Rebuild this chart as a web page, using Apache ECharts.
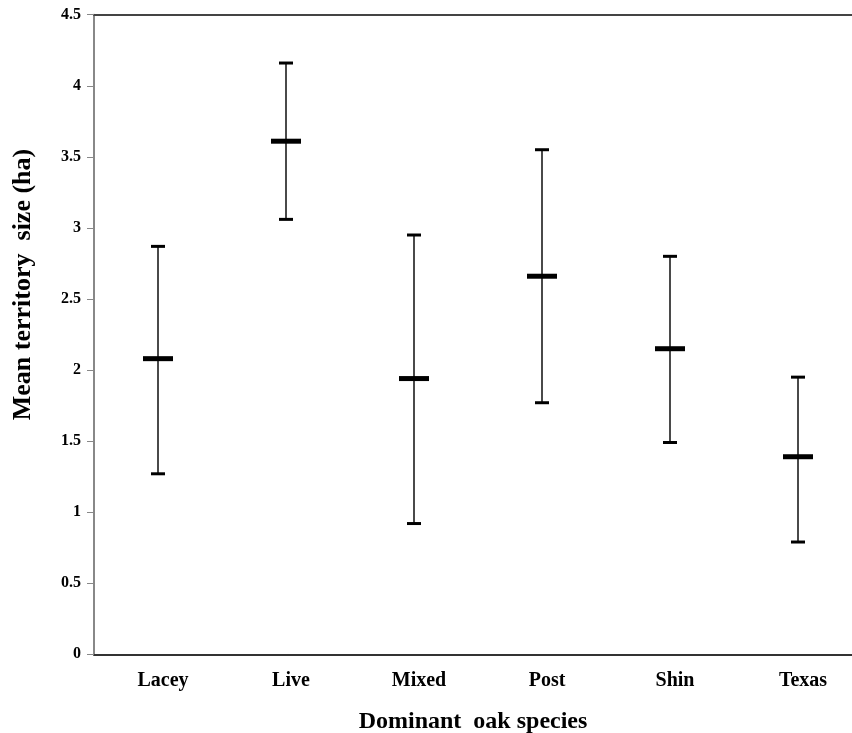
<!DOCTYPE html>
<html>
<head>
<meta charset="utf-8">
<script src="https://cdn.jsdelivr.net/npm/echarts@6/dist/echarts.min.js"></script>
<style>
  html, body { margin: 0; padding: 0; background: #fff; }
  #wrap { width: 852px; height: 733px; overflow: hidden; position: relative; }
  #chart { width: 862px; height: 733px; position: absolute; left: 0; top: 0; }
</style>
</head>
<body>
<div id="wrap"><div id="chart"></div></div>
<script>
// oak species and territory size (mean with upper / lower bounds)
var species = ["Lacey", "Live", "Mixed", "Post", "Shin", "Texas"];
var meanSize = [2.08, 3.61, 1.94, 2.66, 2.15, 1.39];
var upperSize = [2.87, 4.16, 2.95, 3.55, 2.80, 1.95];
var lowerSize = [1.27, 3.06, 0.92, 1.77, 1.49, 0.79];

var FONT = "'Liberation Serif', 'Times New Roman', serif";

var chart = echarts.init(document.getElementById("chart"));

var errData = species.map(function (s, i) {
  return [i, meanSize[i], upperSize[i], lowerSize[i]];
});

function renderErr(params, api) {
  var x = api.value(0);
  var mid = api.coord([x, api.value(1)]);
  var top = api.coord([x, api.value(2)]);
  var bot = api.coord([x, api.value(3)]);
  var capW = 7, meanW = 15;
  return {
    type: "group",
    children: [
      {
        type: "line",
        shape: { x1: top[0], y1: top[1], x2: bot[0], y2: bot[1] },
        style: { stroke: "#4a4a4a", lineWidth: 2 }
      },
      {
        type: "line",
        shape: { x1: top[0] - capW, y1: top[1], x2: top[0] + capW, y2: top[1] },
        style: { stroke: "#000", lineWidth: 3 }
      },
      {
        type: "line",
        shape: { x1: bot[0] - capW, y1: bot[1], x2: bot[0] + capW, y2: bot[1] },
        style: { stroke: "#000", lineWidth: 3 }
      },
      {
        type: "line",
        shape: { x1: mid[0] - meanW, y1: mid[1], x2: mid[0] + meanW, y2: mid[1] },
        style: { stroke: "#000", lineWidth: 5 }
      }
    ]
  };
}

chart.setOption({
  animation: false,
  backgroundColor: "#fff",
  grid: {
    left: 94, right: 0, top: 14.7, bottom: 78.7,
    containLabel: false,
    outerBoundsMode: "none"
  },
  xAxis: [
    {
      type: "category",
      data: species,
      boundaryGap: true,
      axisLine: { show: true, lineStyle: { color: "#333", width: 2 } },
      axisTick: { show: false },
      axisLabel: {
        margin: 17,
        padding: [0, 0, 0, 10],
        fontFamily: FONT,
        fontWeight: "bold",
        fontSize: 20,
        color: "#000"
      },
      name: "Dominant  oak species",
      nameLocation: "middle",
      nameGap: 55,
      nameTextStyle: {
        fontFamily: FONT,
        fontWeight: "bold",
        fontSize: 24,
        color: "#000",
        padding: [0, 10, 0, 0]
      }
    },
    {
      type: "category",
      data: species,
      position: "top",
      axisLine: { show: true, lineStyle: { color: "#444", width: 2 } },
      axisTick: { show: false },
      axisLabel: { show: false }
    }
  ],
  yAxis: {
    type: "value",
    min: 0,
    max: 4.5,
    interval: 0.5,
    splitLine: { show: false },
    axisLine: { show: true, lineStyle: { color: "#888", width: 2 } },
    axisTick: { show: true, length: 7, lineStyle: { color: "#888", width: 1 } },
    axisLabel: {
      margin: 13,
      fontFamily: FONT,
      fontWeight: "bold",
      fontSize: 16,
      color: "#000"
    },
    name: "Mean territory  size (ha)",
    nameLocation: "middle",
    nameGap: 58,
    nameTextStyle: {
      fontFamily: FONT,
      fontWeight: "bold",
      fontSize: 26,
      color: "#000",
      padding: [0, 0, 0, 100]
    }
  },
  series: [
    {
      type: "custom",
      renderItem: renderErr,
      encode: { x: 0, y: [1, 2, 3] },
      data: errData,
      z: 10
    }
  ]
});
</script>
</body>
</html>
